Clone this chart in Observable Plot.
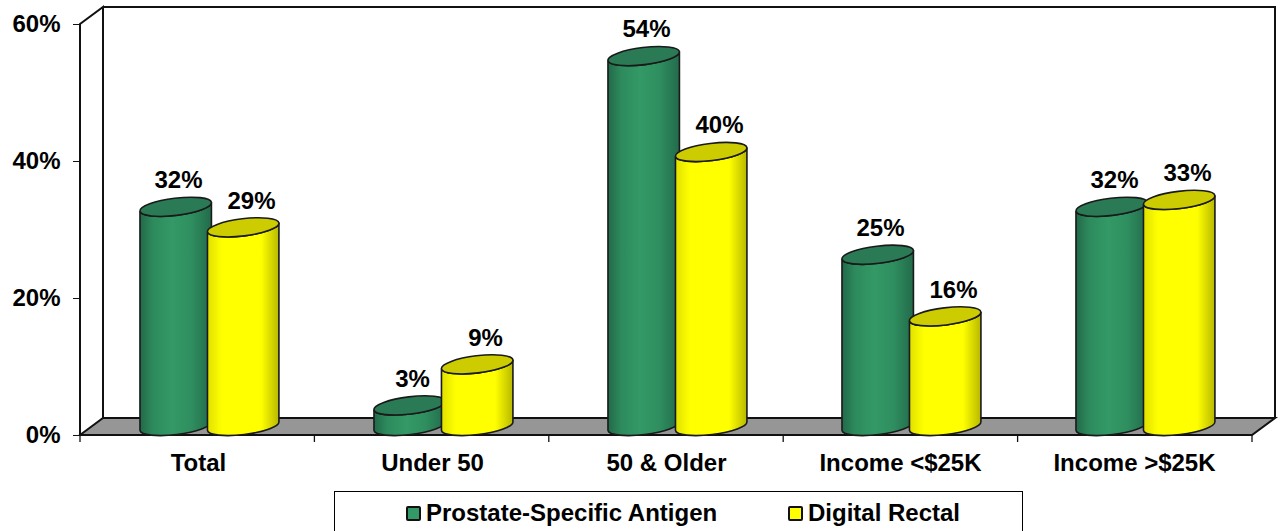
<!DOCTYPE html>
<html>
<head>
<meta charset="utf-8">
<script src="https://cdn.jsdelivr.net/npm/d3@7"></script>
<script src="https://cdn.jsdelivr.net/npm/@observablehq/plot@0.6"></script>
<style>
  html, body { margin: 0; padding: 0; background: #fff; overflow: hidden; }
  body { font-family: "Liberation Sans", Arial, sans-serif; font-weight: 700; color: #000; }
  #legend { position: absolute; left: 334px; top: 491px; width: 689px; height: 60px; border: 1px solid #000; box-sizing: border-box; background: #fff; }
  .item { position: absolute; top: 8px; font-size: 24px; line-height: 26px; display: flex; align-items: center; white-space: nowrap; }
  .sw { width: 11px; height: 11px; border: 2px solid #111; border-radius: 2px; margin-right: 5px; }
</style>
</head>
<body>
<div id="chart"></div>
<div id="legend">
  <div class="item" style="left:71px"><span class="sw" style="background:#339966"></span>Prostate-Specific Antigen</div>
  <div class="item" style="left:453px"><span class="sw" style="background:#ffff00"></span>Digital Rectal</div>
</div>
<script>
const categories = ["Total", "Under 50", "50 & Older", "Income <$25K", "Income >$25K"];
const psaValues = [32, 3, 54, 25, 32];
const drValues = [29, 9, 40, 16, 33];
const yTicks = [0, 20, 40, 60];

const psa = categories.map((category, i) => ({category, value: psaValues[i]}));
const dr = categories.map((category, i) => ({category, value: drValues[i]}));

const depthX = 23, depthY = 17, cylHalf = 36, tilt = 7;

function frameMark(index, {x, y}, values, dims) {
  const L = dims.marginLeft, R = dims.width - dims.marginRight;
  const y0 = y(0), yT = y(60);
  const g = d3.create("svg:g");
  g.append("path").attr("fill", "#969696").attr("stroke", "#111").attr("stroke-width", 2)
    .attr("d", `M${L},${y0}L${L + depthX},${y0 - depthY}H${R + depthX}L${R},${y0}Z`);
  g.append("path").attr("fill", "none").attr("stroke", "#111").attr("stroke-width", 2)
    .attr("d", `M${L},${y0}V${yT}L${L + depthX},${yT - depthY}V${y0 - depthY}M${L + depthX},${yT - depthY}H${R + depthX}V${y0 - depthY}`);
  const sw = (R - L) / categories.length;
  for (let i = 0; i <= categories.length; i++) {
    g.append("path").attr("stroke", "#111").attr("stroke-width", 1.3).attr("d", `M${L + i * sw},${y0}v7`);
  }
  return g.node();
}

function cylinders(data, dx, bodyId, topFill) {
  return Plot.barY(data, {
    x: "category", y: "value", dx,
    render(index, scales, values, dims) {
      const g = d3.create("svg:g");
      const band = (dims.width - dims.marginLeft - dims.marginRight) / categories.length;
      const rad = tilt * Math.PI / 180, rx = cylHalf, ry = 8.6;
      const ex = rx * Math.cos(rad), ey = rx * Math.sin(rad);
      for (const i of index) {
        const d = data[i];
        const cx = scales.x(d.category) + band / 2 + dx;
        const yb = scales.y(0) - 9, yt = scales.y(d.value) - 9;
        g.append("path").attr("fill", `url(#${bodyId})`).attr("stroke", "#1a1a1a").attr("stroke-width", 1.6)
          .attr("d", `M${cx - ex},${yt + ey}V${yb + ey}A${rx},${ry} ${-tilt} 0 0 ${cx + ex},${yb - ey}V${yt - ey}A${rx},${ry} ${-tilt} 0 1 ${cx - ex},${yt + ey}Z`);
        g.append("ellipse").attr("fill", topFill).attr("stroke", "#1a1a1a").attr("stroke-width", 1.6)
          .attr("rx", rx).attr("ry", ry).attr("transform", `translate(${cx},${yt}) rotate(${-tilt})`);
      }
      return g.node();
    }
  });
}

function defsMark() {
  const defs = d3.create("svg:defs");
  const add = (id, stops) => {
    const g = defs.append("linearGradient").attr("id", id);
    stops.forEach(([o, c]) => g.append("stop").attr("offset", o).attr("stop-color", c));
  };
  add("cylGreen", [[0, "#22694a"], [0.18, "#2d8a5c"], [0.45, "#339966"], [0.72, "#2f8e5f"], [1, "#226b4b"]]);
  add("cylYellow", [[0, "#e0e000"], [0.2, "#ffff00"], [0.75, "#ffff00"], [1, "#b8b800"]]);
  return defs.node();
}

const labelStyle = {text: d => d.value + "%", fontSize: 24, fontWeight: 700, fill: "#000", dy: -36};

const chart = Plot.plot({
  width: 1280, height: 490,
  marginLeft: 80, marginRight: 28, marginTop: 24, marginBottom: 55,
  style: {fontFamily: "'Liberation Sans', Arial, sans-serif", background: "transparent", overflow: "visible"},
  x: {domain: categories, padding: 0, label: null},
  y: {domain: [0, 60], label: null},
  marks: [
    defsMark,
    frameMark,
    cylinders(psa, -22.5, "cylGreen", "#2a7a55"),
    cylinders(dr, 45, "cylYellow", "#cccc00"),
    Plot.text(psa, {x: "category", y: "value", dx: -20, ...labelStyle}),
    Plot.text(dr, {x: "category", y: "value", dx: 53, ...labelStyle}),
    Plot.axisY({ticks: yTicks, tickSize: 7, tickPadding: 13, tickFormat: d => d + "%", fontSize: 24, fontWeight: 700, stroke: "#111", fill: "#000", label: null}),
    Plot.axisX({tickSize: 0, tickPadding: 18, fontSize: 24, fontWeight: 700, fill: "#000", label: null})
  ]
});
document.getElementById("chart").appendChild(chart);
</script>
</body>
</html>
